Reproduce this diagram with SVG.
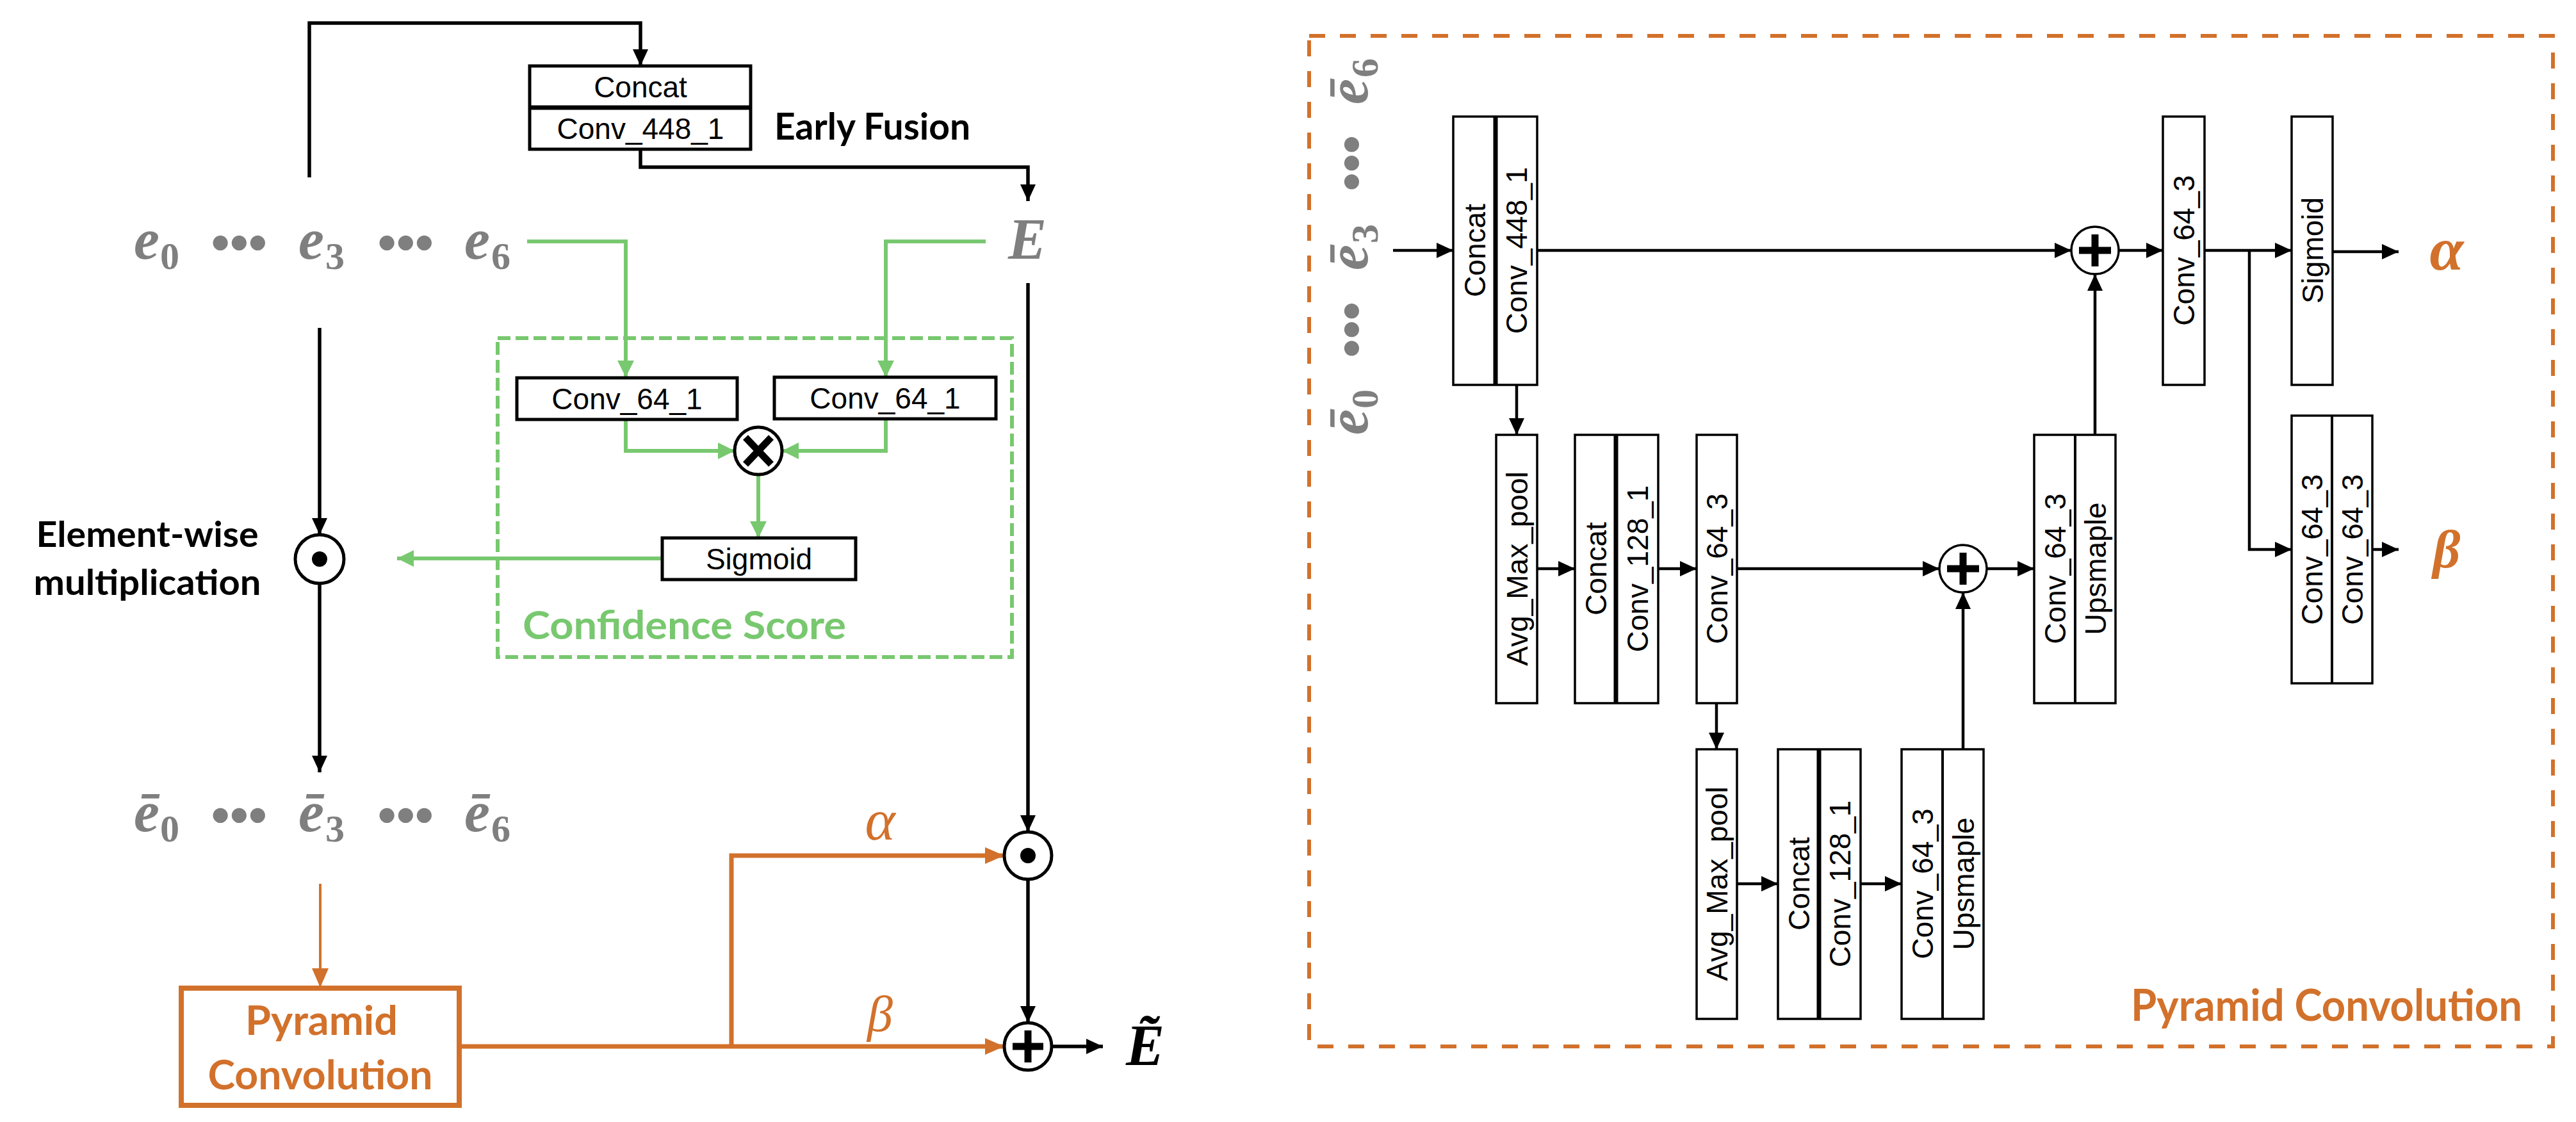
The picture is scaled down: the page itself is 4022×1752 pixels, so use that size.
<svg xmlns="http://www.w3.org/2000/svg" width="4022" height="1752" viewBox="0 0 4022 1752">
<style>
.box{fill:#fff;stroke:#000;stroke-width:5}
.rbox{fill:#fff;stroke:#000;stroke-width:3.5}
.div{stroke:#000;stroke-width:7}
.rdiv{stroke:#000;stroke-width:4}
.lbl{font-family:"Liberation Sans",Arial,sans-serif;font-size:46px;fill:#000}
.bl{font-family:Lato,"Open Sans",sans-serif;font-weight:bold}
.math{font-family:"Liberation Serif","DejaVu Serif",serif;font-style:italic;font-weight:bold;fill:#7f7f7f;font-size:90px}
.sub{font-size:60px;font-style:normal}
.dots{font-family:"DejaVu Sans",sans-serif;font-weight:bold;fill:#7f7f7f;font-size:66px;letter-spacing:-13px}
.gk{font-family:"Liberation Serif","DejaVu Serif",serif;font-style:italic;fill:#D2712B}
.k{fill:none;stroke:#000;stroke-width:5.5}
.kr{fill:none;stroke:#000;stroke-width:4.5}
.g{fill:none;stroke:#78C86F;stroke-width:6}
.o{fill:none;stroke:#D2712B;stroke-width:7}
.circ{fill:#fff;stroke:#000;stroke-width:5}
.rcirc{fill:#fff;stroke:#000;stroke-width:3.5}
.sym{stroke:#000;stroke-width:11}
</style>
<defs>
<marker id="ak" markerUnits="userSpaceOnUse" markerWidth="26" markerHeight="24" refX="26" refY="12" orient="auto"><path d="M0,0L26,12L0,24Z" fill="#000"/></marker>
<marker id="ag" markerUnits="userSpaceOnUse" markerWidth="26" markerHeight="26" refX="26" refY="13" orient="auto"><path d="M0,0L26,13L0,26Z" fill="#78C86F"/></marker>
<marker id="ao" markerUnits="userSpaceOnUse" markerWidth="30" markerHeight="26" refX="30" refY="13" orient="auto"><path d="M0,0L30,13L0,26Z" fill="#D2712B"/></marker>
<g id="erow">
<text class="math"><tspan x="-295" y="0">e</tspan><tspan class="sub" x="-254" y="16">0</tspan></text>
<text class="dots" x="-181" y="0">•••</text>
<text class="math"><tspan x="-38" y="0">e</tspan><tspan class="sub" x="4" y="16">3</tspan></text>
<text class="dots" x="79" y="0">•••</text>
<text class="math"><tspan x="221" y="0">e</tspan><tspan class="sub" x="263" y="16">6</tspan></text>
</g>
<g id="ebrow">
<text class="math"><tspan x="-295" y="0">ē</tspan><tspan class="sub" x="-254" y="16">0</tspan></text>
<text class="dots" x="-181" y="0">•••</text>
<text class="math"><tspan x="-38" y="0">ē</tspan><tspan class="sub" x="4" y="16">3</tspan></text>
<text class="dots" x="79" y="0">•••</text>
<text class="math"><tspan x="221" y="0">ē</tspan><tspan class="sub" x="263" y="16">6</tspan></text>
</g>
</defs>
<rect width="4022" height="1752" fill="#fff"/>

<g id="connectors">
<path class="k" d="M483,277V36H1000V103" marker-end="url(#ak)"/>
<path class="k" d="M1000,233V261H1605V314" marker-end="url(#ak)"/>
<path class="g" d="M823,377H977V589" marker-end="url(#ag)"/>
<path class="g" d="M1539,377H1383V589" marker-end="url(#ag)"/>
<path class="g" d="M977,656V704H1147" marker-end="url(#ag)"/>
<path class="g" d="M1383,655V704H1221" marker-end="url(#ag)"/>
<path class="g" d="M1184,741V840" marker-end="url(#ag)"/>
<path class="g" d="M1034,872H620" marker-end="url(#ag)"/>
<path class="k" d="M499,512V835" marker-end="url(#ak)"/>
<path class="k" d="M499,911V1206" marker-end="url(#ak)"/>
<path class="o" style="stroke-width:4" d="M500,1380V1542" marker-end="url(#ao)"/>
<path class="o" d="M717,1634H1568" marker-end="url(#ao)"/>
<path class="o" d="M1142,1634V1336H1568" marker-end="url(#ao)"/>
<path class="k" d="M1605,442V1299" marker-end="url(#ak)"/>
<path class="k" d="M1605,1373V1597" marker-end="url(#ak)"/>
<path class="k" d="M1642,1634H1722" marker-end="url(#ak)"/>

<path class="kr" d="M2175,391H2269" marker-end="url(#ak)"/>
<path class="kr" d="M2400,391H3234" marker-end="url(#ak)"/>
<path class="kr" d="M2368,601V679" marker-end="url(#ak)"/>
<path class="kr" d="M2400,888H2459" marker-end="url(#ak)"/>
<path class="kr" d="M2589,888H2649" marker-end="url(#ak)"/>
<path class="kr" d="M2712,888H3028" marker-end="url(#ak)"/>
<path class="kr" d="M2680,1098V1170" marker-end="url(#ak)"/>
<path class="kr" d="M2712,1380H2776" marker-end="url(#ak)"/>
<path class="kr" d="M2905,1380H2969" marker-end="url(#ak)"/>
<path class="kr" d="M3065,1170V925" marker-end="url(#ak)"/>
<path class="kr" d="M3102,888H3176" marker-end="url(#ak)"/>
<path class="kr" d="M3271,679V428" marker-end="url(#ak)"/>
<path class="kr" d="M3308,391H3377" marker-end="url(#ak)"/>
<path class="kr" d="M3442,391H3578" marker-end="url(#ak)"/>
<path class="kr" d="M3512,391V858H3578" marker-end="url(#ak)"/>
<path class="kr" d="M3642,393H3745" marker-end="url(#ak)"/>
<path class="kr" d="M3704,858H3745" marker-end="url(#ak)"/>
</g>

<g id="early-fusion">
<rect class="box" x="827" y="103" width="345" height="130"/>
<line class="div" x1="827" y1="168" x2="1172" y2="168"/>
<text class="lbl" x="1000" y="152" text-anchor="middle">Concat</text>
<text class="lbl" x="1000" y="217" text-anchor="middle">Conv_448_1</text>
<text class="bl" x="1209" y="218" font-size="58" textLength="306" lengthAdjust="spacingAndGlyphs">Early Fusion</text>
</g>
<g id="e-row"><use href="#erow" transform="translate(504,404)"/></g>
<g id="E-node"><text class="math" x="1604" y="404" text-anchor="middle" font-size="82">E</text></g>

<g id="confidence-score">
<rect x="777" y="528" width="803" height="498" fill="none" stroke="#78C86F" stroke-width="6" stroke-dasharray="20 8"/>
<text class="bl" x="816" y="998" font-size="62" fill="#78C86F" textLength="505" lengthAdjust="spacingAndGlyphs">Confidence Score</text>
</g>
<g id="conv64-left">
<rect class="box" x="807" y="590" width="344" height="65"/>
<text class="lbl" x="979" y="639" text-anchor="middle">Conv_64_1</text>
</g>
<g id="conv64-right">
<rect class="box" x="1209" y="589" width="346" height="65"/>
<text class="lbl" x="1382" y="638" text-anchor="middle">Conv_64_1</text>
</g>
<g id="otimes">
<circle class="circ" cx="1184" cy="704" r="37"/>
<line class="sym" x1="1164" y1="683" x2="1204" y2="725"/>
<line class="sym" x1="1204" y1="683" x2="1164" y2="725"/>
</g>
<g id="sigmoid-left">
<rect class="box" x="1034" y="840" width="302" height="65"/>
<text class="lbl" x="1185" y="889" text-anchor="middle">Sigmoid</text>
</g>
<g id="odot-left">
<circle class="circ" cx="499" cy="873" r="38"/>
<circle cx="499" cy="873" r="12" fill="#000"/>
</g>
<g id="elementwise-label">
<text class="bl" x="230" y="854" font-size="56" text-anchor="middle" textLength="347" lengthAdjust="spacingAndGlyphs">Element-wise</text>
<text class="bl" x="230" y="929" font-size="56" text-anchor="middle" textLength="355" lengthAdjust="spacingAndGlyphs">multiplication</text>
</g>
<g id="ebar-row"><use href="#ebrow" transform="translate(504,1298)"/></g>
<g id="pyramid-node">
<rect x="283" y="1543" width="434" height="183" fill="#fff" stroke="#D2712B" stroke-width="8"/>
<text class="bl" x="502" y="1616" font-size="64" fill="#D2712B" text-anchor="middle" textLength="238" lengthAdjust="spacingAndGlyphs">Pyramid</text>
<text class="bl" x="500" y="1701" font-size="64" fill="#D2712B" text-anchor="middle" textLength="351" lengthAdjust="spacingAndGlyphs">Convolution</text>
</g>
<g id="alpha-beta-left">
<text class="gk" x="1374" y="1311" text-anchor="middle" font-size="90">α</text>
<text class="gk" x="1374" y="1610" text-anchor="middle" font-size="80">β</text>
</g>
<g id="odot-right">
<circle class="circ" cx="1605" cy="1336" r="37"/>
<circle cx="1605" cy="1336" r="12" fill="#000"/>
</g>
<g id="oplus">
<circle class="circ" cx="1605" cy="1634" r="37"/>
<line class="sym" x1="1581" y1="1634" x2="1629" y2="1634"/>
<line class="sym" x1="1605" y1="1609" x2="1605" y2="1659"/>
</g>
<g id="E-tilde"><text class="math" x="1758" y="1663" font-size="82" style="fill:#000">Ẽ</text></g>

<g id="pyramid-detail">
<rect x="2044" y="56" width="1942" height="1578" fill="none" stroke="#D2712B" stroke-width="6" stroke-dasharray="25 23"/>
<text class="bl" x="3327" y="1594" font-size="68" fill="#D2712B" textLength="611" lengthAdjust="spacingAndGlyphs">Pyramid Convolution</text>
</g>
<g id="ebar-col"><use href="#ebrow" transform="translate(2135,384) rotate(-90)"/></g>

<g id="r-concat448">
<rect class="rbox" x="2269" y="182" width="131" height="419"/>
<line class="div" x1="2335" y1="182" x2="2335" y2="601"/>
<text class="lbl" transform="translate(2319,391) rotate(-90)" text-anchor="middle">Concat</text>
<text class="lbl" transform="translate(2384,391) rotate(-90)" text-anchor="middle">Conv_448_1</text>
</g>
<g id="r-avgmax1">
<rect class="rbox" x="2336" y="679" width="64" height="419"/>
<text class="lbl" transform="translate(2385,888) rotate(-90)" text-anchor="middle">Avg_Max_pool</text>
</g>
<g id="r-concat128a">
<rect class="rbox" x="2459" y="679" width="130" height="419"/>
<line class="div" x1="2523" y1="679" x2="2523" y2="1098"/>
<text class="lbl" transform="translate(2508,888) rotate(-90)" text-anchor="middle">Concat</text>
<text class="lbl" transform="translate(2573,888) rotate(-90)" text-anchor="middle">Conv_128_1</text>
</g>
<g id="r-conv64a">
<rect class="rbox" x="2649" y="679" width="63" height="419"/>
<text class="lbl" transform="translate(2697,888) rotate(-90)" text-anchor="middle">Conv_64_3</text>
</g>
<g id="r-avgmax2">
<rect class="rbox" x="2649" y="1170" width="63" height="421"/>
<text class="lbl" transform="translate(2697,1380) rotate(-90)" text-anchor="middle">Avg_Max_pool</text>
</g>
<g id="r-concat128b">
<rect class="rbox" x="2776" y="1170" width="129" height="421"/>
<line class="div" x1="2840" y1="1170" x2="2840" y2="1591"/>
<text class="lbl" transform="translate(2825,1380) rotate(-90)" text-anchor="middle">Concat</text>
<text class="lbl" transform="translate(2889,1380) rotate(-90)" text-anchor="middle">Conv_128_1</text>
</g>
<g id="r-up2">
<rect class="rbox" x="2969" y="1170" width="128" height="421"/>
<line class="rdiv" x1="3033" y1="1170" x2="3033" y2="1591"/>
<text class="lbl" transform="translate(3018,1380) rotate(-90)" text-anchor="middle">Conv_64_3</text>
<text class="lbl" transform="translate(3082,1380) rotate(-90)" text-anchor="middle">Upsmaple</text>
</g>
<g id="r-plus2">
<circle class="rcirc" cx="3065" cy="888" r="37"/>
<line class="sym" x1="3040" y1="888" x2="3090" y2="888"/>
<line class="sym" x1="3065" y1="863" x2="3065" y2="913"/>
</g>
<g id="r-up1">
<rect class="rbox" x="3176" y="679" width="127" height="419"/>
<line class="rdiv" x1="3240" y1="679" x2="3240" y2="1098"/>
<text class="lbl" transform="translate(3225,888) rotate(-90)" text-anchor="middle">Conv_64_3</text>
<text class="lbl" transform="translate(3288,888) rotate(-90)" text-anchor="middle">Upsmaple</text>
</g>
<g id="r-plus1">
<circle class="rcirc" cx="3271" cy="391" r="37"/>
<line class="sym" x1="3246" y1="391" x2="3296" y2="391"/>
<line class="sym" x1="3271" y1="366" x2="3271" y2="416"/>
</g>
<g id="r-conv64b">
<rect class="rbox" x="3377" y="182" width="65" height="419"/>
<text class="lbl" transform="translate(3426,391) rotate(-90)" text-anchor="middle">Conv_64_3</text>
</g>
<g id="r-sigmoid">
<rect class="rbox" x="3578" y="182" width="64" height="419"/>
<text class="lbl" transform="translate(3627,391) rotate(-90)" text-anchor="middle">Sigmoid</text>
</g>
<g id="r-conv64x2">
<rect class="rbox" x="3578" y="649" width="126" height="418"/>
<line class="rdiv" x1="3641" y1="649" x2="3641" y2="1067"/>
<text class="lbl" transform="translate(3626,858) rotate(-90)" text-anchor="middle">Conv_64_3</text>
<text class="lbl" transform="translate(3689,858) rotate(-90)" text-anchor="middle">Conv_64_3</text>
</g>
<g id="r-alpha-beta">
<text class="gk" x="3820" y="421" text-anchor="middle" font-weight="bold" font-size="96">α</text>
<text class="gk" x="3820" y="886" text-anchor="middle" font-weight="bold" font-size="84">β</text>
</g>
</svg>
